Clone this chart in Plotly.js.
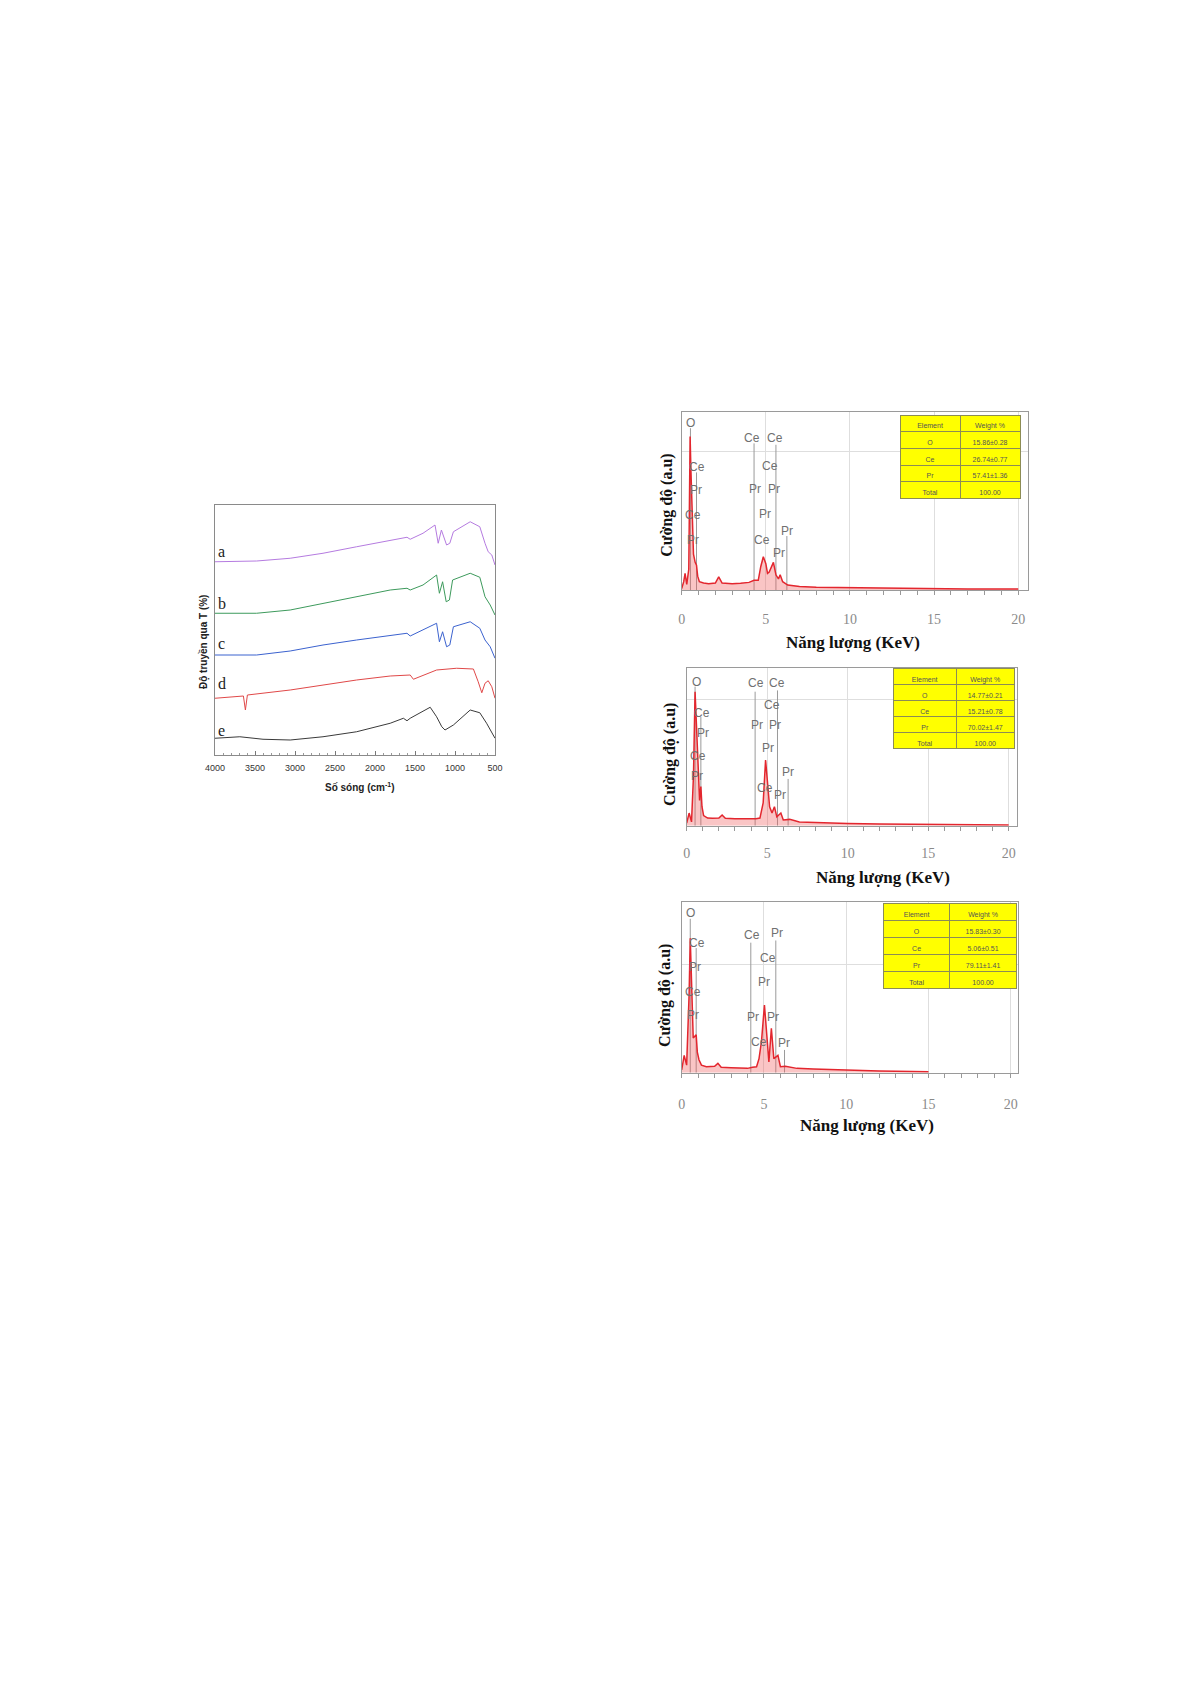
<!DOCTYPE html>
<html><head><meta charset="utf-8">
<script src="https://cdn.plot.ly/plotly-3.0.1.min.js"></script>
<style>body{margin:0;background:#fff}#chart{width:1192px;height:1685px}</style>
</head><body><div id="chart"></div>
<script>
// ---------- FTIR data (wavenumber cm-1, transmittance a.u.) ----------
const ftirA_x = [4000,3480,3060,2650,2230,1810,1600,1560,1400,1250,1210,1170,1105,1065,1020,810,690,625,585,540,500];
const ftirA_y = [77.3,77.6,78.7,80.7,83.3,86.0,87.1,86.3,88.7,92.0,84.7,90.0,84.0,84.7,89.3,93.3,91.3,84.7,81.3,80.0,76.0];
const ftirB_x = [4000,3480,3060,2650,2230,1810,1600,1560,1400,1230,1195,1155,1110,1070,1030,810,690,625,560,500];
const ftirB_y = [56.7,56.7,58.0,60.7,63.3,66.0,66.7,66.0,68.0,72.0,64.7,69.3,61.3,62.0,70.0,72.7,71.1,63.3,60.0,56.0];
const ftirC_x = [4000,3480,3060,2650,2230,1810,1600,1560,1400,1230,1195,1155,1105,1065,1020,810,690,625,560,500];
const ftirC_y = [40.0,40.0,41.6,44.0,46.0,48.0,48.7,47.6,50.0,52.7,45.3,49.3,43.3,44.0,51.3,53.3,50.7,46.0,43.3,38.7];
const ftirD_x = [4000,3645,3620,3595,3060,2650,2230,1810,1560,1520,1440,1310,1230,980,770,710,665,625,585,540,500];
const ftirD_y = [22.7,23.6,18.0,24.0,26.0,28.0,30.0,31.6,32.0,30.3,31.3,32.9,34.0,34.7,34.4,29.3,24.9,28.7,29.7,27.3,22.7];
const ftirE_x = [4000,3690,3400,3060,2650,2230,1810,1645,1600,1560,1310,1230,1165,1125,1020,810,690,605,500];
const ftirE_y = [6.7,7.3,6.3,6.0,7.3,9.3,12.7,14.7,13.7,14.7,19.1,15.3,11.3,10.0,12.0,18.0,16.9,12.7,6.7];
const ftirLabels = ['a','b','c','d','e'];
const ftirLabelY = [81.3,60.7,44.7,28.7,10.0];
const ftirTicks = [4000,3500,3000,2500,2000,1500,1000,500];

// ---------- EDX spectra (energy keV, intensity a.u.) ----------
const edx1_E = [0,0.12,0.2,0.3,0.42,0.5,0.55,0.62,0.7,0.8,0.88,0.95,1.05,1.3,1.6,2.0,2.2,2.4,3.0,3.5,4.0,4.3,4.55,4.7,4.85,5.0,5.1,5.2,5.3,5.45,5.6,5.75,5.85,6.0,6.3,7,8,10,12,14,17,20];
const edx1_I = [0.01,0.06,0.12,0.04,0.15,1.11,0.86,0.58,0.26,0.2,0.18,0.1,0.06,0.05,0.045,0.05,0.095,0.05,0.045,0.048,0.055,0.07,0.07,0.17,0.24,0.19,0.12,0.13,0.16,0.2,0.11,0.08,0.11,0.06,0.036,0.025,0.02,0.017,0.013,0.012,0.008,0.007];
const edx2_E = [0,0.15,0.3,0.42,0.52,0.6,0.7,0.8,0.88,0.95,1.05,1.3,1.6,2.0,2.2,2.4,3.0,3.5,4.0,4.3,4.55,4.75,4.9,5.0,5.15,5.3,5.45,5.6,5.85,6.0,6.4,7,8,10,12,15,17,20];
const edx2_I = [0.02,0.1,0.03,0.39,1.06,0.78,0.44,0.2,0.31,0.15,0.08,0.06,0.058,0.06,0.085,0.058,0.055,0.055,0.05,0.055,0.06,0.18,0.52,0.36,0.15,0.1,0.15,0.07,0.1,0.045,0.05,0.03,0.025,0.018,0.014,0.01,0.008,0.006];
const edx3_E = [0,0.15,0.3,0.45,0.52,0.6,0.7,0.88,0.95,1.05,1.2,1.5,2.0,2.2,2.4,3.0,4.0,4.3,4.55,4.7,4.85,5.03,5.15,5.3,5.45,5.6,5.85,6.0,6.3,7,8,10,12,15];
const edx3_I = [0.025,0.16,0.07,0.72,1.24,0.87,0.32,0.35,0.19,0.12,0.07,0.055,0.06,0.086,0.05,0.046,0.04,0.05,0.055,0.13,0.29,0.625,0.35,0.1,0.41,0.13,0.16,0.055,0.06,0.04,0.035,0.025,0.015,0.008];

// element peak labels: text, energy, height
const pk1_text = ['O','Ce','Pr','Ce','Pr','Ce','Ce','Ce','Pr','Pr','Pr','Ce','Pr','Pr'];
const pk1_E    = [0.5,0.93,0.85,0.69,0.65,4.17,5.56,5.26,4.37,5.46,4.96,4.76,6.25,5.81];
const pk1_H    = [1.205,0.89,0.72,0.54,0.36,1.10,1.10,0.90,0.73,0.73,0.55,0.36,0.43,0.27];
const pk2_text = ['O','Ce','Pr','Ce','Pr','Ce','Ce','Ce','Pr','Pr','Pr','Pr','Ce','Pr'];
const pk2_E    = [0.58,0.93,1.0,0.73,0.66,4.31,5.64,5.28,4.35,5.49,5.02,6.32,4.87,5.8];
const pk2_H    = [1.14,0.894,0.73,0.55,0.39,1.127,1.127,0.955,0.797,0.797,0.612,0.427,0.296,0.243];
const pk3_text = ['O','Ce','Pr','Ce','Pr','Ce','Pr','Ce','Pr','Pr','Pr','Ce','Pr'];
const pk3_E    = [0.51,0.91,0.81,0.71,0.67,4.26,5.82,5.27,5.0,4.36,5.53,4.72,6.22];
const pk3_H    = [1.47,1.194,0.978,0.748,0.532,1.27,1.286,1.055,0.84,0.517,0.517,0.286,0.27];
// element marker lines: energy, top
const ln1_E = [0.52,0.88,4.3,5.6,6.25];  const ln1_H = [1.17,0.85,1.06,1.05,0.39];
const ln2_E = [0.52,0.88,4.25,5.64,6.3]; const ln2_H = [1.1,0.86,1.06,1.07,0.37];
const ln3_E = [0.52,0.88,4.2,5.72,6.25]; const ln3_H = [1.42,1.15,1.2,1.22,0.21];

// composition tables
const tblHeader = ['Element','Weight %'];
const tblElements = ['O','Ce','Pr','Total'];
const tbl1_W = ['15.86±0.28','26.74±0.77','57.41±1.36','100.00'];
const tbl2_W = ['14.77±0.21','15.21±0.78','70.02±1.47','100.00'];
const tbl3_W = ['15.83±0.30','5.06±0.51','79.11±1.41','100.00'];

// ---------- build ----------
const W = 1192, H = 1685;
const px = v => v / W, py = v => 1 - v / H;

const traces = [];
const ftirSeries = [
  [ftirA_x, ftirA_y, '#b57be0'],
  [ftirB_x, ftirB_y, '#3d9a5c'],
  [ftirC_x, ftirC_y, '#3b62cf'],
  [ftirD_x, ftirD_y, '#e04848'],
  [ftirE_x, ftirE_y, '#3a3a3a']
];
ftirSeries.forEach(s => traces.push({type:'scatter', mode:'lines', x:s[0], y:s[1], xaxis:'x', yaxis:'y',
  line:{color:s[2], width:1}, hoverinfo:'skip'}));

const annotations = [];
ftirLabels.forEach((t,i) => annotations.push({xref:'x', yref:'y', x:3915, y:ftirLabelY[i], text:t, showarrow:false,
  font:{family:'Liberation Serif', size:16, color:'#222'}}));

const panels = [
  {E:edx1_E, I:edx1_I, pt:pk1_text, pE:pk1_E, pH:pk1_H, lE:ln1_E, lH:ln1_H, W:tbl1_W, ax:'2',
   xd:[681.7,1028], yd:[411.7,590], xr:20.58, yr:1.289, tbl:[900,1020,415,500], th:16.7, cw:[1,1],
   xt:[853,642], yt:[666.7,505], stand:12},
  {E:edx2_E, I:edx2_I, pt:pk2_text, pE:pk2_E, pH:pk2_H, lE:ln2_E, lH:ln2_H, W:tbl2_W, ax:'3',
   xd:[686.7,1016.7], yd:[668.3,825.7], xr:20.5, yr:1.245, tbl:[893.3,1015,668.3,752], th:16, cw:[1.08,1],
   xt:[883,878], yt:[670,755], stand:10},
  {E:edx3_E, I:edx3_I, pt:pk3_text, pE:pk3_E, pH:pk3_H, lE:ln3_E, lH:ln3_H, W:tbl3_W, ax:'4',
   xd:[681.7,1018.3], yd:[901.7,1072.7], xr:20.46, yr:1.578, tbl:[883.3,1016.7,903.3,990], th:17, cw:[1,1],
   xt:[867,1125], yt:[665,996], stand:14}
];

const layout = {
  width:W, height:H, margin:{l:0,r:0,t:0,b:0}, paper_bgcolor:'#fff', plot_bgcolor:'#fff', showlegend:false,
  xaxis:{domain:[px(215),px(495)], range:[4000,500], anchor:'y', tickmode:'array', tickvals:ftirTicks,
    ticks:'inside', ticklen:4, tickcolor:'#777', minor:{tickmode:'linear', tick0:500, dtick:100, ticks:'inside', ticklen:2, tickcolor:'#999'},
    showline:true, mirror:true, linecolor:'#8a8a8a', linewidth:1, showgrid:false, zeroline:false, ticklabelstandoff:4,
    tickfont:{family:'Arial', size:9, color:'#333'}},
  yaxis:{domain:[py(755),py(505)], range:[0,100], anchor:'x', showticklabels:false, ticks:'',
    showline:true, mirror:true, linecolor:'#8a8a8a', linewidth:1, showgrid:false, zeroline:false},
  annotations:annotations
};

annotations.push({xref:'paper', yref:'paper', x:px(360), y:py(787), text:'<b>Số sóng (cm<sup>-1</sup>)</b>', showarrow:false,
  xanchor:'center', yanchor:'middle', font:{family:'Arial', size:10, color:'#222'}});
annotations.push({xref:'paper', yref:'paper', x:px(203.3), y:py(641.7), text:'<b>Độ truyền qua T (%)</b>', showarrow:false,
  textangle:-90, xanchor:'center', yanchor:'middle', font:{family:'Arial', size:10, color:'#222'}});

panels.forEach(p => {
  const xa = 'x'+p.ax, ya = 'y'+p.ax;
  const lx = [], ly = [];
  p.lE.forEach((e,i) => { lx.push(e,e,null); ly.push(p.lH[i],0,null); });
  traces.push({type:'scatter', mode:'lines', x:lx, y:ly, xaxis:xa, yaxis:ya, line:{color:'#9a9a9a', width:1}, hoverinfo:'skip'});
  traces.push({type:'scatter', mode:'lines', x:p.E, y:p.I, xaxis:xa, yaxis:ya, fill:'tozeroy',
    fillcolor:'rgba(240,90,90,0.35)', line:{color:'#e3262e', width:1.5}, hoverinfo:'skip'});
  traces.push({type:'table', domain:{x:[px(p.tbl[0]),px(p.tbl[1])], y:[py(p.tbl[3]),py(p.tbl[2])]},
    columnwidth:p.cw,
    header:{values:tblHeader, fill:{color:'#ffff00'}, line:{color:'#8c8c55', width:1}, height:p.th, align:'center',
      font:{family:'Arial', size:7, color:'#555'}},
    cells:{values:[tblElements, p.W], fill:{color:'#ffff00'}, line:{color:'#8c8c55', width:1}, height:p.th, align:'center',
      font:{family:'Arial', size:7, color:'#555'}}});
  layout['xaxis'+p.ax] = {domain:[px(p.xd[0]),px(p.xd[1])], range:[0,p.xr], anchor:ya, tick0:0, dtick:5,
    ticks:'outside', ticklen:4, tickcolor:'#999', minor:{dtick:1, ticks:'outside', ticklen:4, tickcolor:'#999'},
    showgrid:true, gridcolor:'#dedede', showline:true, mirror:true, linecolor:'#9a9a9a', linewidth:1, zeroline:false,
    ticklabelstandoff:p.stand, tickfont:{family:'Liberation Serif', size:14, color:'#8a8a8a'}};
  layout['yaxis'+p.ax] = {domain:[py(p.yd[1]),py(p.yd[0])], range:[0,p.yr], anchor:xa, tickvals:[1],
    showticklabels:false, ticks:'', showgrid:true, gridcolor:'#dedede', showline:true, mirror:true,
    linecolor:'#9a9a9a', linewidth:1, zeroline:false};
  p.pt.forEach((t,i) => annotations.push({xref:xa, yref:ya, x:p.pE[i], y:p.pH[i], text:t, showarrow:false,
    xanchor:'center', yanchor:'middle', font:{family:'Arial', size:12, color:'#707070'}}));
  annotations.push({xref:'paper', yref:'paper', x:px(p.xt[0]), y:py(p.xt[1]), text:'<b>Năng lượng (KeV)</b>', showarrow:false,
    xanchor:'center', yanchor:'middle', font:{family:'Liberation Serif', size:17, color:'#111'}});
  annotations.push({xref:'paper', yref:'paper', x:px(p.yt[0]), y:py(p.yt[1]), text:'<b>Cường độ (a.u)</b>', showarrow:false,
    textangle:-90, xanchor:'center', yanchor:'middle', font:{family:'Liberation Serif', size:16, color:'#111'}});
});

Plotly.newPlot('chart', traces, layout, {staticPlot:true, displayModeBar:false});
</script></body></html>
